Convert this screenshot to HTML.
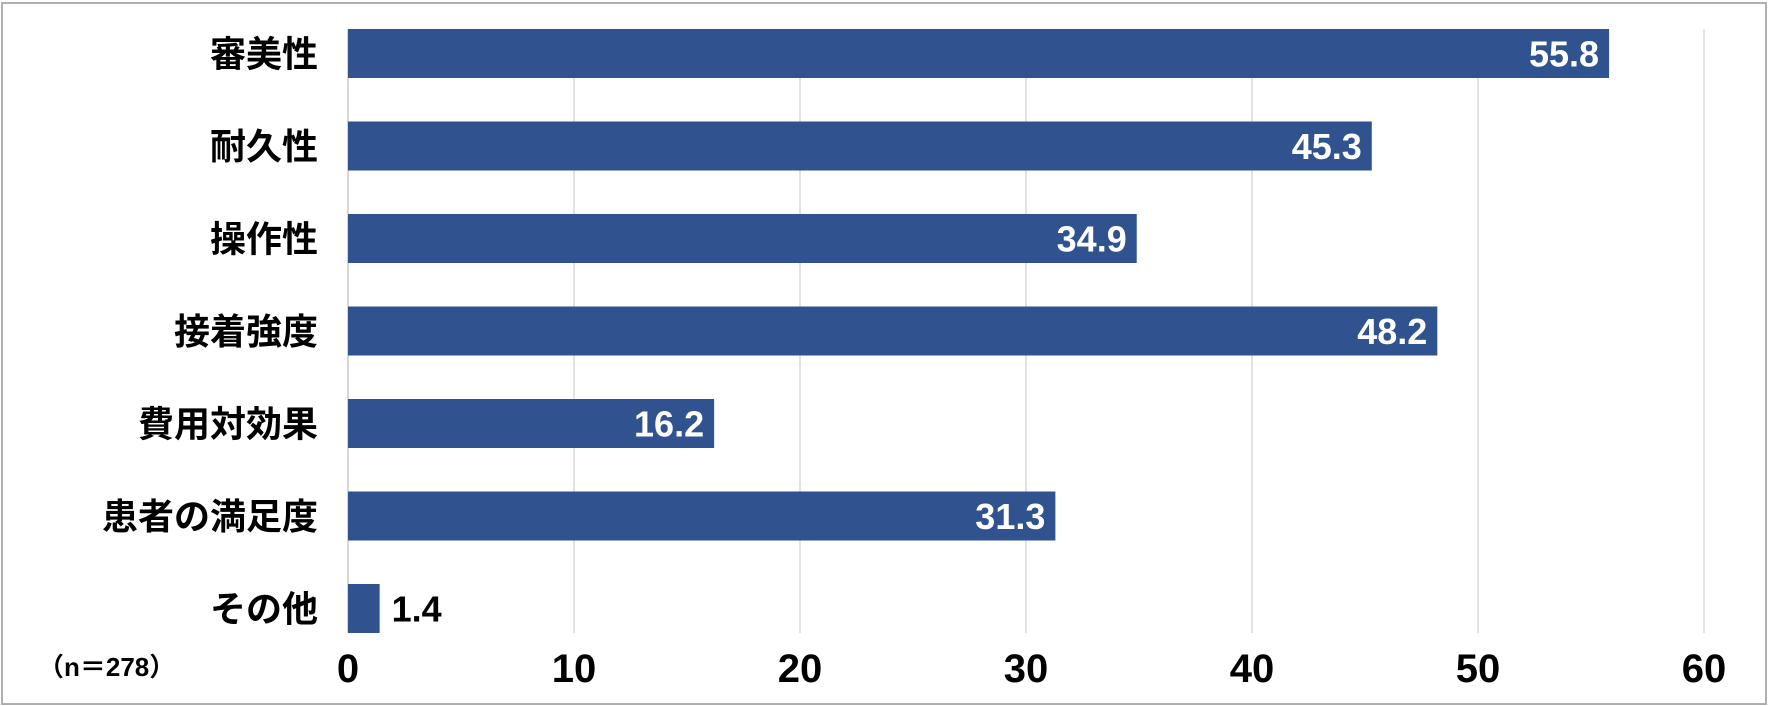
<!DOCTYPE html>
<html><head><meta charset="utf-8"><style>
html,body{margin:0;padding:0;background:#fff;}
svg{display:block;}
text{font-family:"Liberation Sans","Noto Sans CJK JP",sans-serif;font-weight:bold;}
</style></head><body>
<svg id="chart" width="1771" height="706" xmlns="http://www.w3.org/2000/svg">
<rect x="2" y="3" width="1764" height="701" fill="#fff" stroke="#b0b0b0" stroke-width="2"/>
<g id="grid"></g><g id="bars"></g><g id="labels"></g>
<text x="38" y="676" font-size="26" fill="#000">（n＝278）</text>
</svg>
<script>
const categories=["審美性","耐久性","操作性","接着強度","費用対効果","患者の満足度","その他"];
const values=[55.8,45.3,34.9,48.2,16.2,31.3,1.4];
const ticks=[0,10,20,30,40,50,60];
const NS="http://www.w3.org/2000/svg";
const x0=348,pxPer=22.6,rowTop=29,pitch=92.5,barH=49;
const xs=v=>x0+v*pxPer;
const g=document.getElementById('grid'),b=document.getElementById('bars'),l=document.getElementById('labels');
function mk(tag,attrs,parent,txt){const e=document.createElementNS(NS,tag);for(const k in attrs)e.setAttribute(k,attrs[k]);if(txt!==undefined)e.textContent=txt;parent.appendChild(e);return e;}
ticks.forEach(t=>{
  const ln=mk('line',{x1:xs(t),x2:xs(t),y1:29,y2:633,stroke:t===0?'#c8c8c8':'#d9d9d9','stroke-width':1.5},g);
  
  
  const tx=mk('text',{x:xs(t),y:682,'font-size':40,'text-anchor':'middle',fill:'#000'},l,String(t));
  
  
});
categories.forEach((c,i)=>{
  const y=rowTop+i*pitch,v=values[i],w=xs(v)-x0;
  const r=mk('rect',{x:x0,y:y,width:w,height:barH,fill:'#30538f'},b);
  
  
  const cl=mk('text',{x:318,y:y+barH/2+13,'font-size':36,'text-anchor':'end',fill:'#000'},l,c);
  
  
  const inside=w>90;
  const vl=mk('text',{x:inside?xs(v)-10:xs(v)+12,y:y+barH/2+13,'font-size':36,'text-anchor':inside?'end':'start',fill:inside?'#fff':'#000'},l,v.toFixed(1));
  
  
});
</script>
</body></html>
